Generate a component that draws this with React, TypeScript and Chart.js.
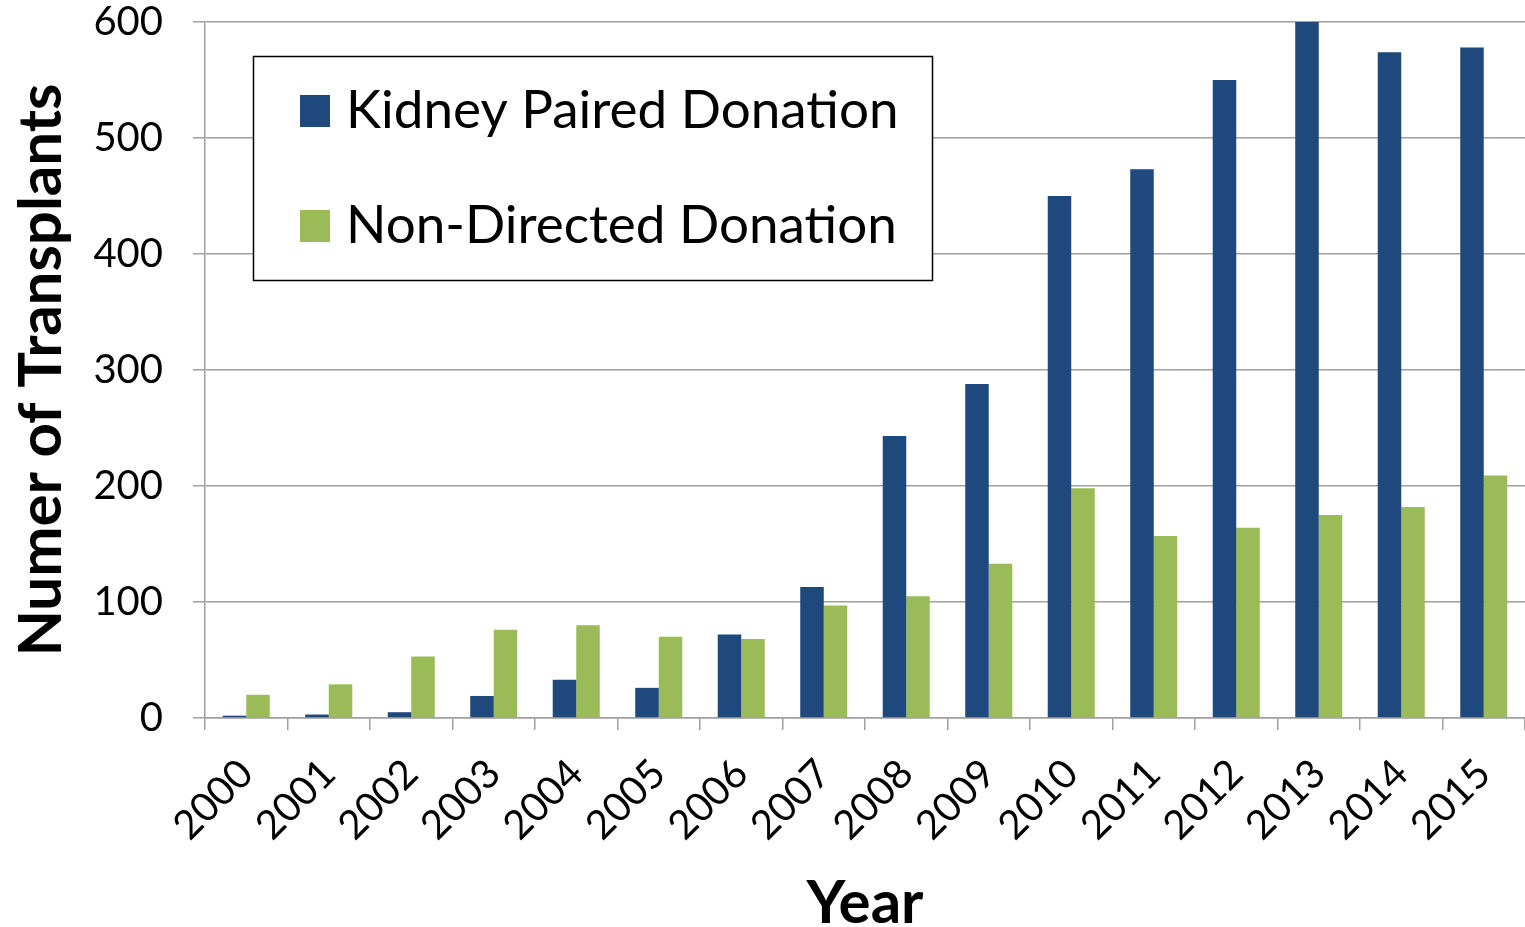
import React, { useEffect, useRef } from "react";
import { Chart, registerables } from "chart.js";

Chart.register(...registerables);

const years = ["2000","2001","2002","2003","2004","2005","2006","2007","2008","2009","2010","2011","2012","2013","2014","2015"];
const kidneyPaired = [2, 3, 5, 19, 33, 26, 72, 113, 243, 288, 450, 473, 550, 602, 574, 578];
const nonDirected = [20, 29, 53, 76, 80, 70, 68, 97, 105, 133, 198, 157, 164, 175, 182, 209];
const yTicks = [0, 100, 200, 300, 400, 500, 600];

const seriesNames = ["Kidney Paired Donation", "Non-Directed Donation"];
const seriesColors = ["#1F497D", "#9BBB59"];

const FONT = "Lato, 'Noto Sans', sans-serif";

const boxLegend = {
  id: "boxLegend",
  afterDraw(chart: any) {
    const ctx = chart.ctx;
    const x0 = 253, y0 = 56, w = 679, h = 224;
    ctx.save();
    ctx.fillStyle = "#ffffff";
    ctx.fillRect(x0, y0, w, h);
    ctx.strokeStyle = "#000000";
    ctx.lineWidth = 1.5;
    ctx.strokeRect(x0 + 0.5, y0 + 0.5, w, h);
    const rowsY = [111, 226];
    chart.data.datasets.forEach((ds: any, i: number) => {
      const cy = rowsY[i];
      ctx.fillStyle = ds.backgroundColor;
      ctx.fillRect(300, cy - 16, 30, 32);
      ctx.fillStyle = "#000000";
      ctx.font = `53px ${FONT}`;
      ctx.textAlign = "left";
      ctx.textBaseline = "middle";
      ctx.fillText(ds.label, 346, cy);
    });
    ctx.restore();
  },
};

export default function App() {
  const ref = useRef<HTMLCanvasElement | null>(null);
  useEffect(() => {
    if (!ref.current) return;
    const chart = new Chart(ref.current, {
      type: "bar",
      data: {
        labels: years,
        datasets: [
          { label: seriesNames[0], data: kidneyPaired, backgroundColor: seriesColors[0], borderWidth: 0 },
          { label: seriesNames[1], data: nonDirected, backgroundColor: seriesColors[1], borderWidth: 0 },
        ],
      },
      options: {
        responsive: false,
        animation: false,
        layout: { padding: { left: 0, right: 0, top: 0, bottom: 0 } },
        datasets: { bar: { categoryPercentage: 0.57, barPercentage: 1 } },
        plugins: { legend: { display: false }, tooltip: { enabled: false } },
        scales: {
          x: {
            offset: true,
            grid: { drawOnChartArea: false, drawTicks: true, tickLength: 12, color: "#a0a0a0", lineWidth: 1.5, offset: true },
            border: { color: "#a0a0a0", width: 1.5 },
            ticks: { color: "#000", font: { family: FONT, size: 40 }, minRotation: 45, maxRotation: 45, padding: 20, labelOffset: 0 },
            title: { display: true, text: "Year", color: "#000", font: { family: FONT, size: 60, weight: "bold" }, padding: { top: 0, bottom: -13 } },
            afterFit(scale: any) { scale.height = 209; scale.paddingLeft = 0; scale.paddingRight = 0; },
          },
          y: {
            min: 0,
            max: 600,
            afterBuildTicks(scale: any) { scale.ticks = yTicks.map((v) => ({ value: v })); },
            grid: { color: "#a0a0a0", lineWidth: 1.5, tickLength: 12 },
            border: { color: "#a0a0a0", width: 1.5 },
            ticks: { color: "#000", font: { family: FONT, size: 40 }, padding: 30 },
            title: { display: true, text: "Numer of Transplants", color: "#000", font: { family: FONT, size: 60, weight: "bold" }, padding: { top: 6, bottom: 0 } },
            afterFit(scale: any) { scale.width = 205; scale.paddingTop = 22; scale.paddingBottom = 0; },
          },
        },
      },
      plugins: [boxLegend],
    });
    return () => chart.destroy();
  }, []);
  return (
    <div style={{ position: "fixed", left: 0, top: 0, width: 1525, height: 927, background: "#fff" }}>
      <canvas ref={ref} width={1525} height={927} style={{ display: "block" }} />
    </div>
  );
}
